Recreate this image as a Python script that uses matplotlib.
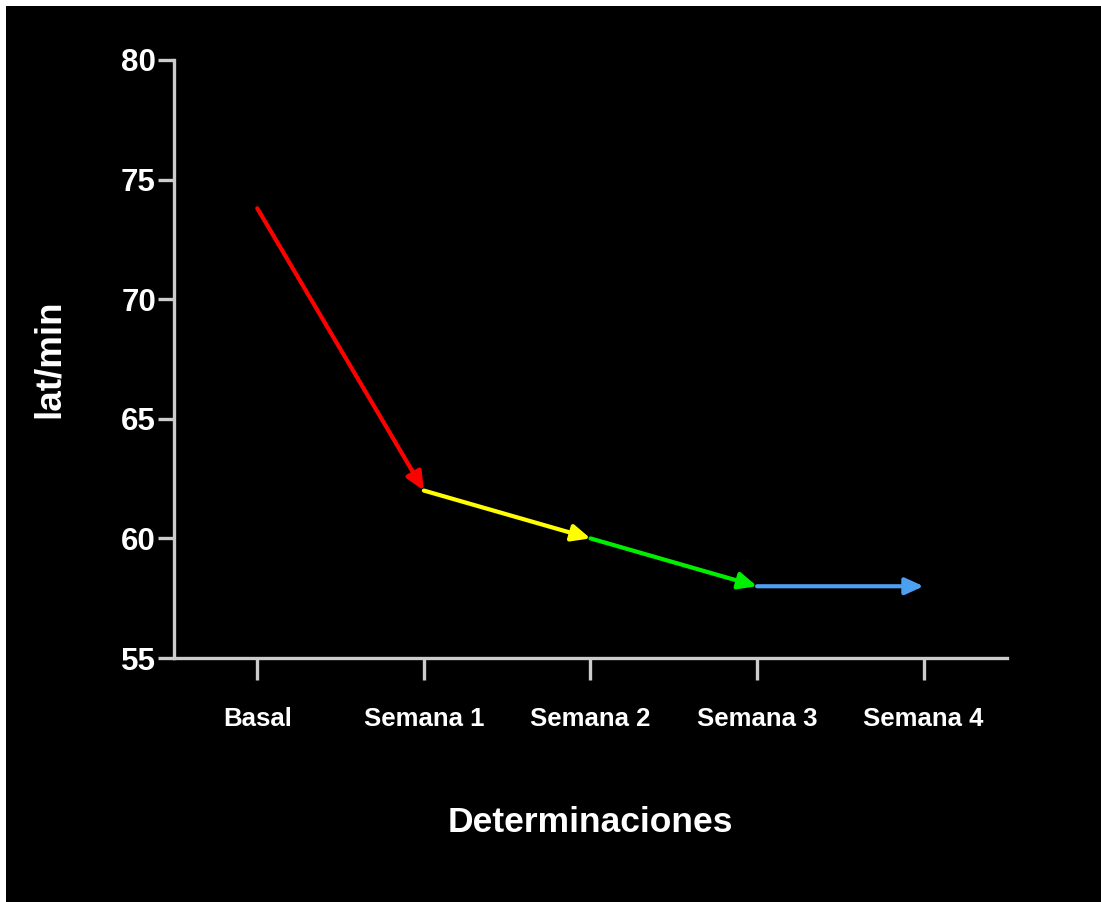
"""
Frecuencia cardiaca (lat/min) por determinacion, con flechas entre puntos.
"""

import matplotlib
matplotlib.use("Agg")
import matplotlib.pyplot as plt
from matplotlib.patches import Rectangle

plt.rcParams["font.family"] = ["Liberation Sans", "DejaVu Sans"]

categorias = ["Basal", "Semana 1", "Semana 2", "Semana 3", "Semana 4"]
lat_min = [73.8, 62.0, 60.0, 58.0, 58.0]
colores = ["#ff0000", "#ffff00", "#00ee00", "#4d9ff0"]

axis_color = "#cccccc"

fig = plt.figure(figsize=(11.01, 9.02), dpi=100, facecolor="white")
# black panel, thin white border on top / left
fig.patches.append(Rectangle((6 / 1101, 0), 1, 1 - 6 / 902, transform=fig.transFigure,
                             facecolor="black", edgecolor="none", zorder=-10))

ax = fig.add_axes([0.158, 0.2705, 0.7566, 0.663])
ax.set_facecolor("none")

x = list(range(len(categorias)))
for i in range(len(x) - 1):
    ax.annotate("", xy=(x[i + 1], lat_min[i + 1]), xytext=(x[i], lat_min[i]),
                arrowprops=dict(arrowstyle="-|>,head_length=1.1,head_width=0.5",
                                color=colores[i], lw=3, shrinkA=0, shrinkB=0))

ax.set_xlim(-0.5, 4.5)
ax.set_ylim(55, 80)
ax.set_xticks(x)
ax.set_xticklabels(categorias)
ax.set_yticks([55, 60, 65, 70, 75, 80])

for side in ["top", "right"]:
    ax.spines[side].set_visible(False)
for side in ["left", "bottom"]:
    ax.spines[side].set_color(axis_color)
    ax.spines[side].set_linewidth(2.4)

ax.tick_params(axis="y", length=11.5, width=2.4, color=axis_color, pad=1.5,
               labelsize=22.5, labelcolor="white")
ax.tick_params(axis="x", length=16, width=2.4, color=axis_color, pad=19,
               labelsize=18.5, labelcolor="white")
for lab in ax.get_xticklabels() + ax.get_yticklabels():
    lab.set_fontweight("bold")

ax.set_ylabel("lat/min", fontsize=26.5, fontweight="bold", color="white")
ax.yaxis.set_label_coords(-0.128, 0.5)
ax.set_xlabel("Determinaciones", fontsize=25.5, fontweight="bold", color="white")
ax.xaxis.set_label_coords(0.5, -0.247)

fig.savefig("out.png", dpi=100, facecolor=fig.get_facecolor())
